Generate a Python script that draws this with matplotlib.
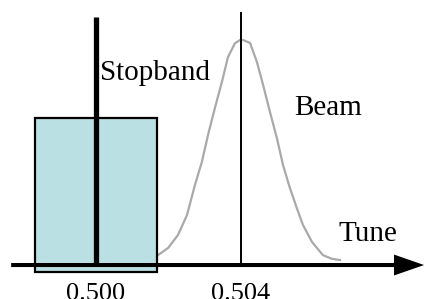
import numpy as np
import matplotlib
matplotlib.use("Agg")
import matplotlib.pyplot as plt
from matplotlib.patches import Rectangle, FancyArrow

# stopband and beam tune values
stopband_centre = 0.500
stopband_half = 0.00168
stopband_height = 0.653
beam_tune = 0.504

# beam profile (tune, relative height)
beam_x = [0.50171, 0.50199, 0.50226, 0.50251, 0.50273, 0.50292, 0.50309,
          0.50328, 0.50348, 0.50364, 0.50383, 0.50397, 0.50406, 0.50425,
          0.50444, 0.50461, 0.50480, 0.50499, 0.50516, 0.50535, 0.50554,
          0.50571, 0.50596, 0.50626, 0.50650, 0.50673]
beam_y = [0.044, 0.076, 0.133, 0.222, 0.356, 0.458, 0.578,
          0.698, 0.818, 0.924, 0.985, 1.000, 1.000, 0.987,
          0.902, 0.800, 0.680, 0.564, 0.444, 0.342, 0.253,
          0.178, 0.102, 0.044, 0.028, 0.022]

tick_pos = [0.500, 0.504]
tick_labels = ["0.500", "0.504"]

plt.rcParams['font.family'] = ['Liberation Serif', 'DejaVu Serif']

fig = plt.figure(figsize=(4.24, 2.99), dpi=100)
ax = fig.add_axes([0, 0, 1, 1])
ax.set_xlim(0.497352, 0.509048)
ax.set_ylim(-0.151, 1.178)
ax.axis('off')

# beam (behind the stopband box)
ax.plot(beam_x, beam_y, color='#a9a9a9', lw=1.6, zorder=1,
        solid_joinstyle='round')

# stopband box
ax.add_patch(Rectangle((stopband_centre - stopband_half, -0.031),
                       2 * stopband_half, stopband_height + 0.031,
                       facecolor='#bae0e3', edgecolor='black', lw=1.6,
                       zorder=2))

# resonance line and beam tune line
ax.plot([stopband_centre, stopband_centre], [0, 1.102], color='black',
        lw=3.8, solid_capstyle='butt', zorder=3)
ax.plot([beam_tune, beam_tune], [0, 1.124], color='black', lw=1.4,
        solid_capstyle='butt', zorder=3)

# tune axis with arrow
x0, x1 = 0.49766, 0.50905
ax.add_patch(FancyArrow(x0, 0, x1 - x0, 0, width=0.018, head_width=0.093,
                        head_length=0.00083, length_includes_head=True,
                        color='black', lw=0, zorder=4))

for t, s in zip(tick_pos, tick_labels):
    ax.text(t, -0.08, s, ha='center', va='top', fontsize=19)

ax.text(0.50011, 0.822, "Stopband", ha='left', va='baseline', fontsize=21)
ax.text(0.50546, 0.667, "Beam", ha='left', va='baseline', fontsize=21)
ax.text(0.50670, 0.107, "Tune", ha='left', va='baseline', fontsize=21)

fig.savefig("out.png", dpi=100)
